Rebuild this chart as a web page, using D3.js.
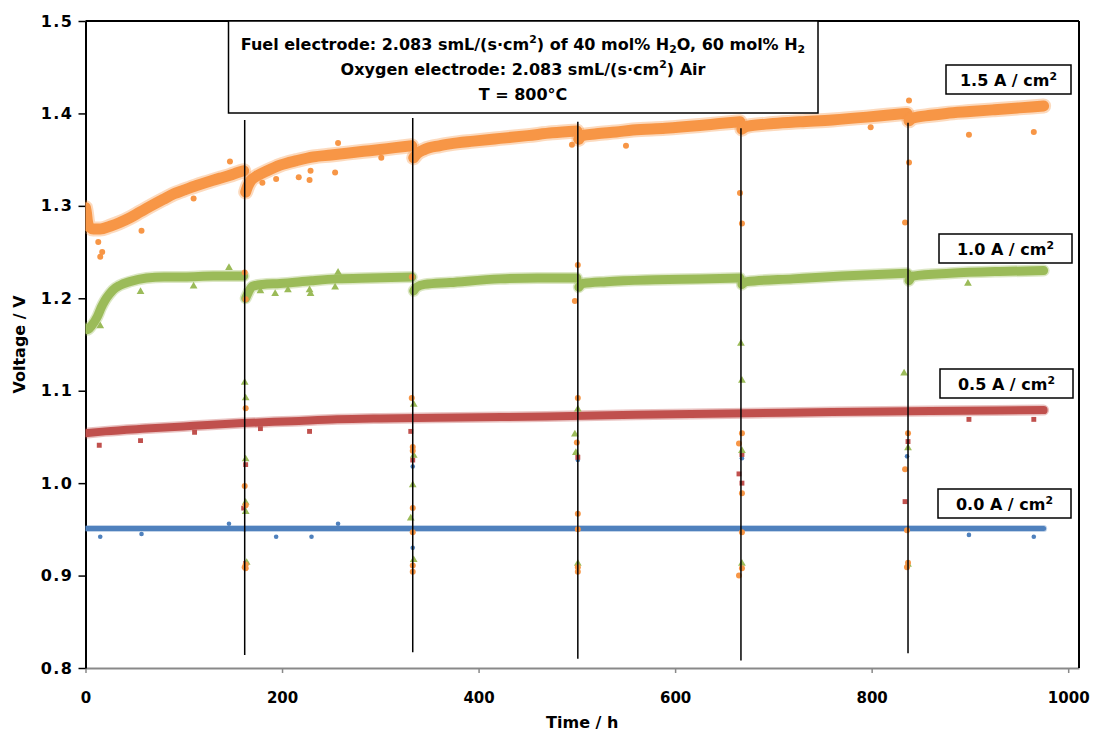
<!DOCTYPE html>
<html>
<head>
<meta charset="utf-8">
<script src="https://cdnjs.cloudflare.com/ajax/libs/d3/7.8.5/d3.min.js"></script>
<style>
body { margin: 0; background: #fff; }
svg text { font-family: "DejaVu Sans", sans-serif; font-weight: bold; fill: #000; }
</style>
</head>
<body>
<svg id="chart" width="1096" height="733"></svg>
<script>
// values (time in h, voltage in V)
const interruptT = [162, 333, 501, 667, 837];
const interruptTop = [1.393, 1.395, 1.391, 1.384, 1.390];
const interruptBottom = [0.814, 0.817, 0.810, 0.808, 0.816];

const xTicks = [0, 200, 400, 600, 800, 1000];
const yTicks = [0.8, 0.9, 1.0, 1.1, 1.2, 1.3, 1.4, 1.5];

// 1.5 A/cm2 (orange)
const t15 = [0,1,2,4,8,15,25,35,45,55,65,79,90,100,113,125,137,147,155,161,
  163,165,168,174,185,198,215,232,250,266,283,300,315,332,
  334,337,345,360,371,395,422,450,475,500,
  502,505,520,540,557,590,625,645,666,
  668,673,700,727,760,795,815,836,
  838,842,860,876,900,925,950,975];
const v15 = [1.298,1.292,1.283,1.277,1.275,1.275,1.278,1.282,1.287,1.293,1.299,1.307,1.313,1.317,1.322,1.326,1.330,1.333,1.336,1.338,
  1.315,1.321,1.327,1.332,1.338,1.344,1.349,1.353,1.355,1.357,1.359,1.361,1.363,1.365,
  1.352,1.356,1.361,1.365,1.367,1.370,1.373,1.376,1.379,1.381,
  1.372,1.376,1.378,1.380,1.382,1.384,1.387,1.389,1.391,
  1.383,1.386,1.389,1.391,1.393,1.396,1.398,1.400,
  1.392,1.395,1.398,1.400,1.402,1.404,1.406,1.408];
const stray15 = [[13,1.261],[15,1.245],[17,1.250],[57,1.273],[110,1.308],[147,1.348],[180,1.325],[194,1.329],
  [217,1.331],[228,1.328],[229,1.338],[254,1.336],[257,1.368],[301,1.352],[495,1.366],[550,1.365],[799,1.385],
  [899,1.377],[965,1.380],[838,1.414],
  [162,1.228],[163,1.199],[163,1.081],[162,0.997],[163,0.976],[162,0.909],[163,0.908],[163,0.912],
  [332,1.223],[332,1.092],[333,1.039],[333,1.035],[333,0.973],[333,0.947],[333,0.911],[333,0.904],
  [501,1.236],[498,1.197],[501,1.092],[500,1.044],[501,0.967],[501,0.909],[501,0.904],[501,0.950],
  [666,1.314],[668,1.281],[668,1.054],[665,1.043],[668,0.989],[668,0.947],[665,0.900],[668,0.908],
  [838,1.347],[834,1.282],[837,1.054],[834,1.015],[836,0.949],[836,0.909],[837,0.914]];

// 1.0 A/cm2 (green)
const t10 = [0,2,6,12,16,20,24,28,35,45,62,80,100,130,161,
  163,166,170,180,198,230,256,290,332,
  334,337,345,371,422,460,500,
  502,506,530,580,625,666,
  668,673,720,770,836,
  838,842,880,930,975];
const v10 = [1.168,1.166,1.170,1.180,1.190,1.198,1.204,1.209,1.214,1.218,1.222,1.223,1.223,1.224,1.224,
  1.200,1.207,1.213,1.215,1.216,1.219,1.221,1.222,1.223,
  1.208,1.212,1.215,1.217,1.221,1.222,1.222,
  1.212,1.216,1.218,1.220,1.221,1.222,
  1.215,1.218,1.221,1.224,1.227,
  1.219,1.224,1.227,1.229,1.230];
const stray10 = [[15,1.170],[56,1.207],[110,1.213],[146,1.233],[178,1.208],[193,1.205],[206,1.209],[228,1.209],
  [229,1.205],[257,1.228],[254,1.212],[898,1.216],
  [162,1.109],[163,1.092],[163,0.979],[163,0.969],[164,0.914],[163,1.026],
  [334,1.085],[334,1.030],[333,0.998],[331,0.962],[334,0.917],
  [501,1.080],[498,1.053],[499,1.033],[501,0.913],
  [668,1.111],[667,1.151],[668,1.035],[668,0.913],
  [833,1.119],[837,1.038],[837,0.912]];

// 0.5 A/cm2 (red)
const t05 = [0,20,62,110,160,210,256,300,380,469,560,673,760,860,975];
const v05 = [1.054,1.056,1.059,1.062,1.065,1.067,1.069,1.070,1.071,1.072,1.074,1.0755,1.077,1.078,1.079];
const stray05 = [[14,1.041],[56,1.046],[111,1.055],[178,1.059],[228,1.056],[899,1.069],[965,1.069],
  [161,0.973],[163,0.913],[163,1.020],[331,1.056],[333,1.025],[501,1.028],
  [665,1.010],[668,1.000],[668,1.031],[837,1.045],[834,0.980]];

// 0.0 A/cm2 (blue)
const t00 = [0,100,200,300,400,500,600,700,800,900,975];
const v00 = [0.951,0.951,0.951,0.951,0.951,0.951,0.951,0.951,0.951,0.951,0.951];
const stray00 = [[15,0.942],[57,0.945],[146,0.956],[194,0.942],[230,0.942],[257,0.956],[899,0.944],[965,0.942],
  [333,1.018],[333,0.930],[501,1.025],[668,1.027],[836,1.029],[162,0.950]];

const loadLabels = ["0.0 A / cm", "0.5 A / cm", "1.0 A / cm", "1.5 A / cm"];

const titleLines = [
  [["Fuel electrode: 2.083 smL/(s·cm", ""], ["2", "sup"], [") of 40 mol% H", ""], ["2", "sub"], ["O, 60 mol% H", ""], ["2", "sub"]],
  [["Oxygen electrode: 2.083 smL/(s·cm", ""], ["2", "sup"], [") Air", ""]],
  [["T = 800°C", ""]]
];

function zipPts(ts, vs) { return ts.map(function(t, i) { return {t: t, v: vs[i]}; }); }

const series = [
  {pts: zipPts(t00, v00), stray: stray00, color: "#4F81BD", band: 5, halo: 2, split: false, shape: "dot"},
  {pts: zipPts(t05, v05), stray: stray05, color: "#C0504D", band: 8, halo: 3, split: false, shape: "square"},
  {pts: zipPts(t10, v10), stray: stray10, color: "#9BBB59", band: 9, halo: 3, split: true, shape: "triangle"},
  {pts: zipPts(t15, v15), stray: stray15, color: "#F79646", band: 11, halo: 4, split: true, shape: "circle"}
];

var margin = {top: 21, right: 17, bottom: 65, left: 85.5};
var width = 1096 - margin.left - margin.right;
var height = 733 - margin.top - margin.bottom;

var x = d3.scaleLinear().domain([0, 1011]).range([0, width]);
var y = d3.scaleLinear().domain([0.8, 1.5]).range([height, 0]);

var svg = d3.select("#chart");
var g = svg.append("g").attr("transform", "translate(" + margin.left + "," + margin.top + ")");

g.append("clipPath").attr("id", "plotclip")
  .append("rect").attr("width", width).attr("height", height);

// x axis (grey)
var xAxis = g.append("g")
  .attr("transform", "translate(0," + height + ")")
  .call(d3.axisBottom(x).tickValues(xTicks).tickSize(5).tickSizeOuter(0).tickFormat(d3.format("d")));
xAxis.select(".domain").attr("stroke", "#898989").attr("stroke-width", 2);
xAxis.selectAll(".tick line").attr("stroke", "#898989").attr("stroke-width", 1.5);
xAxis.selectAll(".tick text").attr("y", 35).attr("dy", 0).style("font-size", "15px");

// y axis
var yAxis = g.append("g")
  .call(d3.axisLeft(y).tickValues(yTicks).tickSize(7).tickSizeOuter(0).tickFormat(d3.format(".1f")));
yAxis.select(".domain").attr("stroke", "#000").attr("stroke-width", 2);
yAxis.selectAll(".tick line").attr("stroke", "#000").attr("stroke-width", 1.5);
yAxis.selectAll(".tick text").attr("x", -12).style("font-size", "16px").style("letter-spacing", "1.5px");

// plot area border top / right
g.append("line").attr("x1", 0).attr("x2", width).attr("y1", 0).attr("y2", 0)
  .attr("stroke", "#000").attr("stroke-width", 2);
g.append("line").attr("x1", width).attr("x2", width).attr("y1", 0).attr("y2", height)
  .attr("stroke", "#000").attr("stroke-width", 2);

// dense data drawn as bands
var line = d3.line().x(function(d) { return x(d.t); }).y(function(d) { return y(d.v); })
  .curve(d3.curveMonotoneX);

var plot = g.append("g").attr("clip-path", "url(#plotclip)");

series.forEach(function(s) {
  var segs = s.split
    ? Array.from(d3.group(s.pts, function(d) { return d3.bisectLeft(interruptT, d.t); }).values())
    : [s.pts];
  segs.forEach(function(seg) {
    plot.append("path").datum(seg).attr("d", line)
      .attr("fill", "none").attr("stroke", s.color).attr("stroke-opacity", 0.35)
      .attr("stroke-width", s.band + s.halo).attr("stroke-linecap", "round").attr("stroke-linejoin", "round");
    plot.append("path").datum(seg).attr("d", line)
      .attr("fill", "none").attr("stroke", s.color)
      .attr("stroke-width", s.band).attr("stroke-linecap", "round").attr("stroke-linejoin", "round");
  });
});

// stray points
series.forEach(function(s) {
  var sel = plot.selectAll(null).data(s.stray);
  if (s.shape === "circle" || s.shape === "dot") {
    sel.enter().append("circle")
      .attr("cx", function(d) { return x(d[0]); })
      .attr("cy", function(d) { return y(d[1]); })
      .attr("r", s.shape === "dot" ? 2.3 : 3)
      .attr("fill", s.color);
  } else {
    var sym = d3.symbol().type(s.shape === "square" ? d3.symbolSquare : d3.symbolTriangle).size(s.shape === "square" ? 24 : 26);
    sel.enter().append("path")
      .attr("transform", function(d) { return "translate(" + x(d[0]) + "," + y(d[1]) + ")"; })
      .attr("d", sym)
      .attr("fill", s.color);
  }
});

// interruption lines
g.selectAll(".stop")
  .data(interruptT)
  .enter().append("line")
  .attr("class", "stop")
  .attr("x1", function(d) { return x(d); })
  .attr("x2", function(d) { return x(d); })
  .attr("y1", function(d, i) { return y(interruptTop[i]); })
  .attr("y2", function(d, i) { return y(interruptBottom[i]); })
  .attr("stroke", "#000").attr("stroke-width", 1.5);

function richText(sel, parts, size) {
  var shift = 0;
  parts.forEach(function(p) {
    var target = p[1] === "sup" ? -0.38 * size : (p[1] === "sub" ? 0.22 * size : 0);
    sel.append("tspan")
      .attr("dy", target - shift)
      .style("font-size", (p[1] ? size * 0.68 : size) + "px")
      .text(p[0]);
    shift = target;
  });
}

// title box
g.append("rect").attr("x", 143).attr("y", 0).attr("width", 589.5).attr("height", 92)
  .attr("fill", "#fff").attr("stroke", "#000").attr("stroke-width", 1.5);
titleLines.forEach(function(parts, i) {
  var t = g.append("text").attr("x", 437.5).attr("y", 28.5 + i * 25).attr("text-anchor", "middle");
  richText(t, parts, 16);
});

// current density labels
var labelBoxes = [
  {x: 852.5, y: 468, w: 133},
  {x: 854.5, y: 348, w: 133},
  {x: 853.5, y: 213, w: 133},
  {x: 860.5, y: 44, w: 125}
];
loadLabels.forEach(function(lab, i) {
  var b = labelBoxes[i];
  g.append("rect").attr("x", b.x).attr("y", b.y).attr("width", b.w).attr("height", 29)
    .attr("fill", "#fff").attr("stroke", "#000").attr("stroke-width", 1.5);
  var t = g.append("text").attr("x", b.x + b.w / 2).attr("y", b.y + 21).attr("text-anchor", "middle");
  richText(t, [[lab, ""], ["2", "sup"]], 16);
});

// axis titles
svg.append("text")
  .attr("x", margin.left + width / 2).attr("y", 728)
  .attr("text-anchor", "middle").style("font-size", "16px")
  .text("Time / h");
svg.append("text")
  .attr("transform", "translate(25," + (margin.top + height / 2) + ") rotate(-90)")
  .attr("text-anchor", "middle").style("font-size", "16px")
  .text("Voltage / V");
</script>
</body>
</html>
